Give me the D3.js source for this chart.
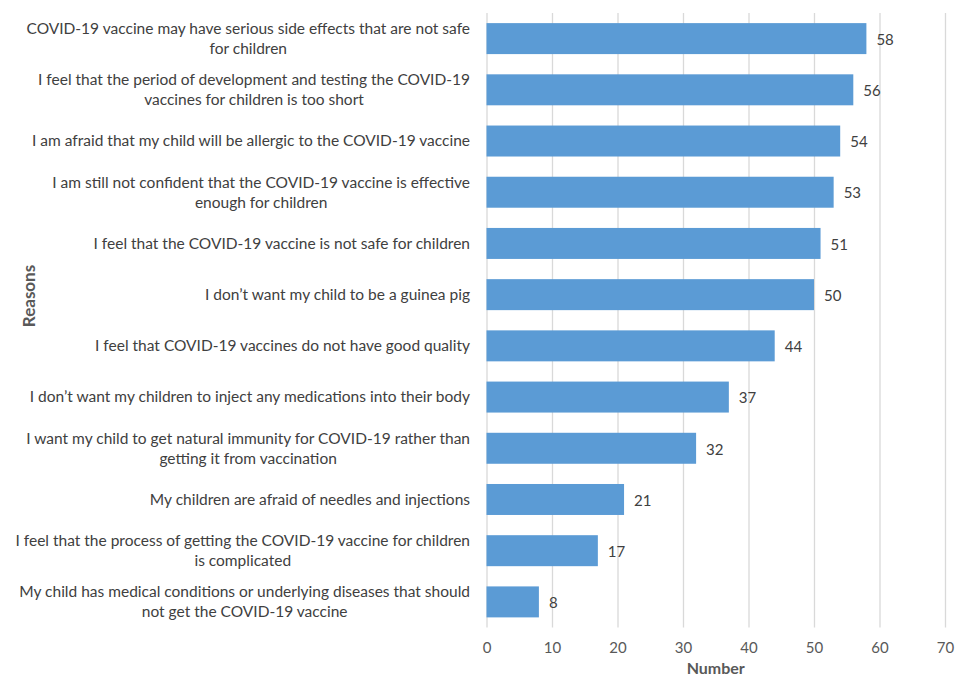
<!DOCTYPE html>
<html>
<head>
<meta charset="utf-8">
<script src="https://cdn.jsdelivr.net/npm/d3@7"></script>
<style>
body { margin: 0; background: #fff; }
</style>
</head>
<body>
<script>
var canvasWidth = 956;
var canvasHeight = 677;
var margin = { top: 13, right: 11, bottom: 49.5, left: 486.5 };

var reasons = [
    "COVID-19 vaccine may have serious side effects that are not safe\nfor children",
    "I feel that the period of development and testing the COVID-19\nvaccines for children is too short",
    "I am afraid that my child will be allergic to the COVID-19 vaccine",
    "I am still not confident that the COVID-19 vaccine is effective\nenough for children",
    "I feel that the COVID-19 vaccine is not safe for children",
    "I don\u2019t want my child to be a guinea pig",
    "I feel that COVID-19 vaccines do not have good quality",
    "I don\u2019t want my children to inject any medications into their body",
    "I want my child to get natural immunity for COVID-19 rather than\ngetting it from vaccination",
    "My children are afraid of needles and injections",
    "I feel that the process of getting the COVID-19 vaccine for children\nis complicated",
    "My child has medical conditions or underlying diseases that should\nnot get the COVID-19 vaccine"
];
var counts = [58, 56, 54, 53, 51, 50, 44, 37, 32, 21, 17, 8];
var xTicks = [0, 10, 20, 30, 40, 50, 60, 70];

var font = "Lato, 'Open Sans', sans-serif";

var width = canvasWidth - margin.left - margin.right;
var height = canvasHeight - margin.top - margin.bottom;

var svg = d3.select("body").append("svg")
    .attr("width", canvasWidth)
    .attr("height", canvasHeight)
    .style("font-family", font);

var xScale = d3.scaleLinear().domain([0, 70]).range([0, width]);
var yScale = d3.scaleBand().domain(d3.range(reasons.length)).range([0, height])
    .paddingInner(0.395).paddingOuter(0.1975);

var g = svg.append("g")
    .attr("transform", "translate(" + margin.left + "," + margin.top + ")");

// gridlines + x axis labels
var xAxis = g.append("g")
    .attr("transform", "translate(0," + height + ")")
    .call(d3.axisBottom(xScale).tickValues(xTicks).tickSizeInner(-height).tickSizeOuter(0).tickPadding(15));
xAxis.select(".domain").remove();
xAxis.selectAll("line").attr("stroke", "#d9d9d9").attr("stroke-width", 1.3);
xAxis.selectAll("text")
    .attr("fill", "#595959")
    .style("font-size", "15px")
    .style("font-family", font);

// bars
g.selectAll(".bar")
    .data(counts)
    .enter().append("rect")
    .attr("class", "bar")
    .attr("x", xScale(0))
    .attr("y", function(d, i) { return yScale(i); })
    .attr("width", function(d) { return xScale(d) - xScale(0); })
    .attr("height", yScale.bandwidth())
    .attr("fill", "#5b9bd5");

// value labels
g.selectAll(".val")
    .data(counts)
    .enter().append("text")
    .attr("class", "val")
    .attr("x", function(d) { return xScale(d) + 10; })
    .attr("y", function(d, i) { return yScale(i) + yScale.bandwidth() / 2 + 1; })
    .attr("dy", "0.35em")
    .attr("fill", "#404040")
    .style("font-size", "15px")
    .text(function(d) { return d; });

// category labels: block right-aligned, lines centred inside block
var labelRight = 470;
reasons.forEach(function(r, i) {
    var lines = r.split("\n");
    var cy = margin.top + yScale(i) + yScale.bandwidth() / 2;
    var t = svg.append("text")
        .attr("fill", "#404040")
        .style("font-size", "15.5px")
        .attr("text-anchor", "middle");
    var spans = lines.map(function(l, j) {
        return t.append("tspan")
            .attr("y", cy + (j - (lines.length - 1) / 2) * 20)
            .attr("dy", "0.35em")
            .text(l);
    });
    var maxW = d3.max(spans, function(s) { return s.node().getComputedTextLength(); });
    spans.forEach(function(s) { s.attr("x", labelRight - maxW / 2); });
});

// axis titles
svg.append("text")
    .attr("x", margin.left + width / 2)
    .attr("y", 674)
    .attr("text-anchor", "middle")
    .attr("fill", "#595959")
    .style("font-size", "16px")
    .style("font-weight", "bold")
    .text("Number");

svg.append("text")
    .attr("transform", "translate(35,296) rotate(-90)")
    .attr("text-anchor", "middle")
    .attr("fill", "#595959")
    .style("font-size", "17px")
    .style("font-weight", "bold")
    .text("Reasons");
</script>
</body>
</html>
